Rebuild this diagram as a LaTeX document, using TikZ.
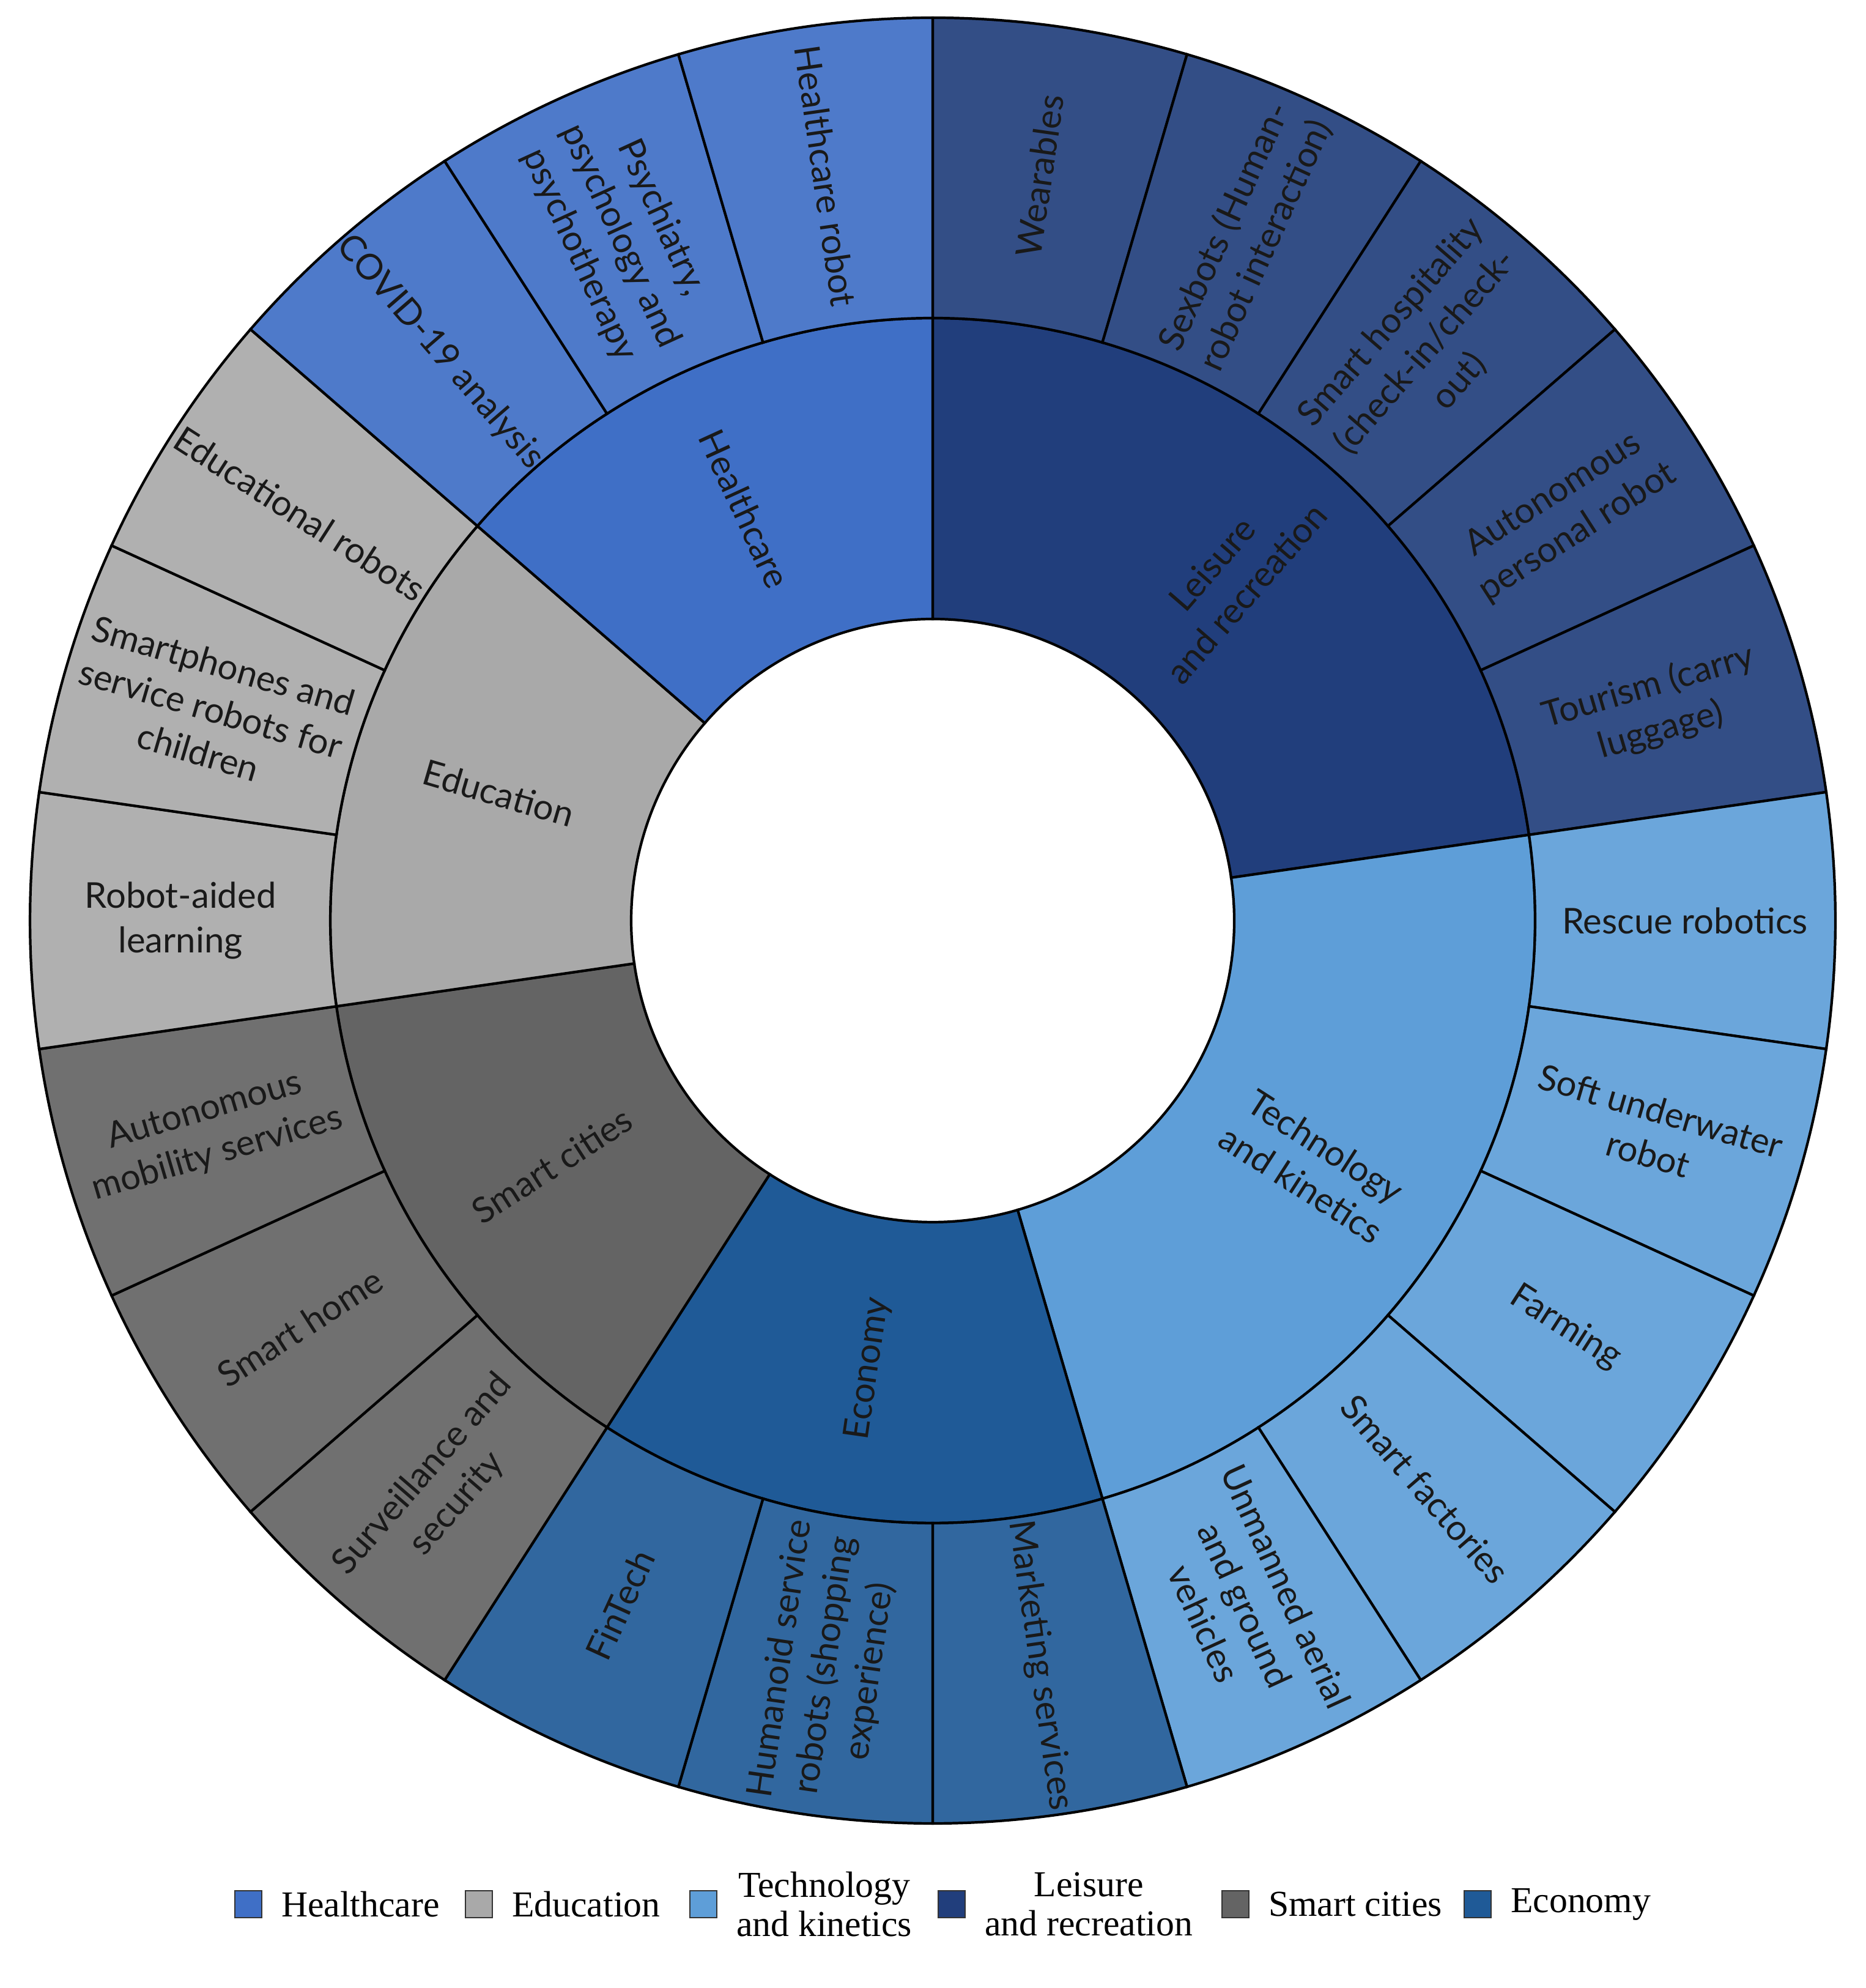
\documentclass[tikz,border=0pt]{standalone}
\usepackage{fontspec}
\setmainfont{Liberation Serif}
\newfontfamily\lab{Lato}
\begin{document}
\begin{tikzpicture}
\definecolor{cHe}{HTML}{3F6FC6}
\definecolor{cLe}{HTML}{213E7C}
\definecolor{cTe}{HTML}{5E9ED8}
\definecolor{cEc}{HTML}{1F5A97}
\definecolor{cSc}{HTML}{646464}
\definecolor{cEd}{HTML}{A9A9A9}
\tikzset{seg/.style={draw=black,line width=1.2pt},
  lbl/.style={font=\lab\fontsize{16.5}{21}\selectfont,text=black!90,align=center,inner sep=0pt},
  leg/.style={font=\fontsize{17}{18}\selectfont,align=center,inner sep=0pt},
  sq/.style={draw=black!80,line width=0.8pt,minimum size=0.44cm,inner sep=0pt}}
\useasboundingbox (0,0) rectangle (30.51,32.5);
\coordinate (C) at (15.25,17.45);
\def\Ri{4.93}\def\Rm{9.85}\def\Ro{14.76}
\pgfmathsetmacro{\s}{360/22}
\foreach \n/\a/\k/\c in {Le/0/5/cLe,Te/5/5/cTe,Ec/10/3/cEc,Sc/13/3/cSc,Ed/16/3/cEd,He/19/3/cHe}{
  \pgfmathsetmacro{\pa}{90-\a*\s}
  \pgfmathsetmacro{\pb}{90-(\a+\k)*\s}
  \fill[\c,seg] ([shift={(\pa:\Ri)}]C) arc (\pa:\pb:\Ri) -- ([shift={(\pb:\Rm)}]C) arc (\pb:\pa:\Rm) -- cycle;
  \foreach \j in {1,...,\k}{
    \pgfmathsetmacro{\qa}{90-(\a+\j-1)*\s}
    \pgfmathsetmacro{\qb}{90-(\a+\j)*\s}
    \fill[\c!92!white,seg] ([shift={(\qa:\Rm)}]C) arc (\qa:\qb:\Rm) -- ([shift={(\qb:\Ro)}]C) arc (\qb:\qa:\Ro) -- cycle;
  }
}
\foreach \n/\m/\t in {Le/2.5/{Leisure\\and recreation},Te/7.5/{Technology\\and kinetics},Ec/11.5/{Economy},Sc/14.5/{Smart cities},Ed/17.5/{Education},He/20.5/{Healthcare}}{
  \pgfmathsetmacro{\ph}{90-\m*\s}
  \pgfmathsetmacro{\rt}{cos(\ph)>=0 ? \ph : \ph+180}
  \node[lbl,rotate=\rt] (in\n) at ([shift={(\ph:7.4)}]C) {\t};
}
\foreach \i/\t in {0/{Wearables},1/{Sexbots (Human-\\robot interaction)},2/{Smart hospitality\\(check-in/check-\\out)},3/{Autonomous\\personal robot},4/{Tourism (carry\\luggage)},
 5/{Rescue robotics},6/{Soft underwater\\robot},7/{Farming},8/{Smart factories},9/{Unmanned aerial\\and ground\\vehicles},
 10/{Marketing services},11/{Humanoid service\\robots (shopping\\experience)},12/{FinTech},
 13/{Surveillance and\\security},14/{Smart home},15/{Autonomous\\mobility services},
 16/{Robot-aided\\learning},17/{Smartphones and\\service robots for\\children},18/{Educational robots},
 19/{COVID-19 analysis},20/{Psychiatry,\\psychology and\\psychotherapy},21/{Healthcare robot}}{
  \pgfmathsetmacro{\ph}{90-(\i+0.5)*\s}
  \pgfmathsetmacro{\rt}{cos(\ph)>=-0.001 ? \ph : \ph+180}
  \node[lbl,rotate=\rt] (out\i) at ([shift={(\ph:12.3)}]C) {\t};
}
\foreach \x/\c/\t/\nm in {4.06/cHe/Healthcare/a,7.83/cEd/Education/b,11.5/cTe/{Technology\\and kinetics}/c,15.56/cLe/{Leisure\\and recreation}/d,20.2/cSc/Smart cities/e,24.16/cEc/Economy/f}{
  \node[sq,fill=\c] (sq\nm) at (\x,1.37) {};
  \node[leg,anchor=west] (lt\nm) at ([xshift=0.3cm]sq\nm.east) {\t};
}
\end{tikzpicture}
\end{document}
